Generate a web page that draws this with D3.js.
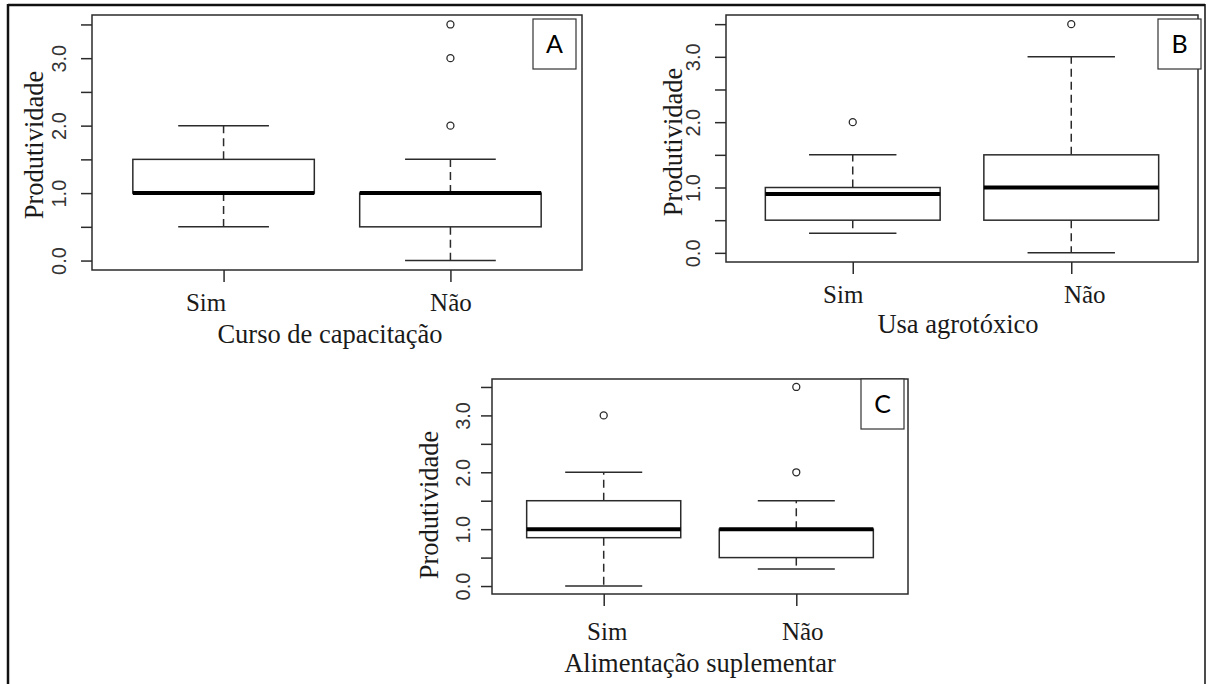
<!DOCTYPE html>
<html>
<head>
<meta charset="utf-8">
<script src="https://cdn.jsdelivr.net/npm/d3@7"></script>
<style>
  html, body { margin: 0; padding: 0; background: #fff; }
  svg { display: block; }
</style>
</head>
<body>
<svg id="chart" width="1208" height="684"></svg>
<script>
// ---------- data ----------
const categories = ["Sim", "Não"];
const panelLetters = ["A", "B", "C"];
const xTitles = ["Curso de capacitação", "Usa agrotóxico", "Alimentação suplementar"];
const yTitle = "Produtividade";
const yTickValues = [0, 0.5, 1, 1.5, 2, 2.5, 3, 3.5];
const yTickLabels = ["0.0", "", "1.0", "", "2.0", "", "3.0", ""];

// five-number summaries (lower whisker, Q1, median, Q3, upper whisker) + outliers
const statsA = [
  { low: 0.5, q1: 1.0, med: 1.0, q3: 1.5, high: 2.0, out: [] },
  { low: 0.0, q1: 0.5, med: 1.0, q3: 1.0, high: 1.5, out: [2.0, 3.0, 3.5] }
];
const statsB = [
  { low: 0.3, q1: 0.5, med: 0.9, q3: 1.0, high: 1.5, out: [2.0] },
  { low: 0.0, q1: 0.5, med: 1.0, q3: 1.5, high: 3.0, out: [3.5] }
];
const statsC = [
  { low: 0.0, q1: 0.85, med: 1.0, q3: 1.5, high: 2.0, out: [3.0] },
  { low: 0.3, q1: 0.5, med: 1.0, q3: 1.0, high: 1.5, out: [2.0, 3.5] }
];
const panelStats = [statsA, statsB, statsC];

// ---------- layout ----------
const layout = [
  { left: 92, top: 15, right: 582, bottom: 270, tag: [533, 19, 576, 69], yTitleX: 43, yTitleY: 145, tickLabOff: 26, catY: 311, catDx: [-18, 0], titleY: 343, titleX: 330 },
  { left: 726, top: 15, right: 1198, bottom: 262, tag: [1158, 19, 1201, 69], yTitleX: 682, yTitleY: 142, tickLabOff: 26, catY: 303, catDx: [-10, 13], titleY: 333, titleX: 958 },
  { left: 492, top: 379, right: 908, bottom: 594, tag: [861, 379, 904, 429], yTitleX: 438, yTitleY: 505, tickLabOff: 22, catY: 640, catDx: [3, 6], titleY: 672, titleX: 700 }
];

const ink = "#2b2b2b";
const serif = "'Liberation Serif', 'Times New Roman', serif";
const sans = "'Liberation Sans', Arial, sans-serif";

const svg = d3.select("#chart");

// outer figure frame
svg.append("line").attr("x1", 8).attr("y1", 5).attr("x2", 1205).attr("y2", 5)
  .attr("stroke", "#111").attr("stroke-width", 2.5);
svg.append("line").attr("x1", 8).attr("y1", 4).attr("x2", 8).attr("y2", 684)
  .attr("stroke", "#111").attr("stroke-width", 2.5);
svg.append("line").attr("x1", 1205).attr("y1", 4).attr("x2", 1205).attr("y2", 684)
  .attr("stroke", "#111").attr("stroke-width", 1.5);

panelStats.forEach((stats, p) => {
  const L = layout[p];
  const g = svg.append("g");

  // R-style extended ranges
  const y = d3.scaleLinear().domain([-0.14, 3.64]).range([L.bottom, L.top]);
  const x = d3.scaleLinear().domain([0.42, 2.58]).range([L.left, L.right]);
  const bw = x(1.4) - x(1.0); // half box width (0.8 / 2)

  // y axis
  const yAxis = d3.axisLeft(y).tickValues(yTickValues).tickSize(11)
    .tickFormat((d, i) => yTickLabels[i]);
  const ya = g.append("g").attr("transform", `translate(${L.left},0)`).call(yAxis);
  ya.select(".domain").remove();
  ya.selectAll(".tick line").attr("stroke", ink).attr("stroke-width", 1.5);
  ya.selectAll(".tick text")
    .attr("x", null).attr("dy", null)
    .attr("transform", `translate(${-L.tickLabOff},0) rotate(-90)`)
    .attr("text-anchor", "middle")
    .attr("fill", "#333")
    .style("font-family", sans).style("font-size", "20px");

  // x axis
  const xAxis = d3.axisBottom(x).tickValues([1, 2]).tickSize(12)
    .tickFormat((d, i) => categories[i]);
  const xa = g.append("g").attr("transform", `translate(0,${L.bottom})`).call(xAxis);
  xa.select(".domain").remove();
  xa.selectAll(".tick line").attr("stroke", ink).attr("stroke-width", 1.5);
  xa.selectAll(".tick text")
    .attr("y", L.catY - L.bottom).attr("dy", null)
    .attr("x", (d, i) => L.catDx[i])
    .attr("fill", "#1a1a1a")
    .style("font-family", serif).style("font-size", "25px");

  // plot frame
  g.append("rect")
    .attr("x", L.left).attr("y", L.top)
    .attr("width", L.right - L.left).attr("height", L.bottom - L.top)
    .attr("fill", "none").attr("stroke", ink).attr("stroke-width", 1.5);

  // boxes
  const bx = g.selectAll(".bp").data(stats).join("g").attr("class", "bp");
  const cx = (d, i) => x(i + 1);

  // whiskers (dashed)
  bx.append("line")
    .attr("x1", cx).attr("x2", cx)
    .attr("y1", d => y(d.q3)).attr("y2", d => y(d.high))
    .attr("stroke", ink).attr("stroke-width", 1.5).attr("stroke-dasharray", "8,5");
  bx.append("line")
    .attr("x1", cx).attr("x2", cx)
    .attr("y1", d => y(d.q1)).attr("y2", d => y(d.low))
    .attr("stroke", ink).attr("stroke-width", 1.5).attr("stroke-dasharray", "8,5");
  // staples
  ["high", "low"].forEach(k => {
    bx.append("line")
      .attr("x1", (d, i) => cx(d, i) - bw / 2).attr("x2", (d, i) => cx(d, i) + bw / 2)
      .attr("y1", d => y(d[k])).attr("y2", d => y(d[k]))
      .attr("stroke", ink).attr("stroke-width", 1.5);
  });
  // box
  bx.append("rect")
    .attr("x", (d, i) => cx(d, i) - bw)
    .attr("width", 2 * bw)
    .attr("y", d => y(d.q3))
    .attr("height", d => y(d.q1) - y(d.q3))
    .attr("fill", "#fff").attr("stroke", ink).attr("stroke-width", 1.5);
  // median
  bx.append("line")
    .attr("x1", (d, i) => cx(d, i) - bw).attr("x2", (d, i) => cx(d, i) + bw)
    .attr("y1", d => y(d.med)).attr("y2", d => y(d.med))
    .attr("stroke", "#000").attr("stroke-width", 4);
  // outliers
  bx.each(function (d, i) {
    d3.select(this).selectAll("circle").data(d.out).join("circle")
      .attr("cx", x(i + 1)).attr("cy", v => y(v)).attr("r", 3.5)
      .attr("fill", "none").attr("stroke", ink).attr("stroke-width", 1.3);
  });

  // y title
  g.append("text")
    .attr("transform", `translate(${L.yTitleX},${L.yTitleY}) rotate(-90)`)
    .attr("text-anchor", "middle")
    .attr("fill", "#1a1a1a")
    .style("font-family", serif).style("font-size", "26.5px")
    .text(yTitle);

  // x title
  g.append("text")
    .attr("x", L.titleX).attr("y", L.titleY)
    .attr("text-anchor", "middle")
    .attr("fill", "#1a1a1a")
    .style("font-family", serif).style("font-size", "26.5px")
    .text(xTitles[p]);

  // panel tag box
  const [tx0, ty0, tx1, ty1] = L.tag;
  g.append("rect")
    .attr("x", tx0).attr("y", ty0).attr("width", tx1 - tx0).attr("height", ty1 - ty0)
    .attr("fill", "#fff").attr("stroke", "#333").attr("stroke-width", 1.2);
  g.append("text")
    .attr("x", (tx0 + tx1) / 2).attr("y", ty0 + 34)
    .attr("text-anchor", "middle")
    .attr("fill", "#000")
    .style("font-family", "Lato, 'Open Sans', sans-serif").style("font-size", "25px")
    .text(panelLetters[p]);
});
</script>
</body>
</html>
